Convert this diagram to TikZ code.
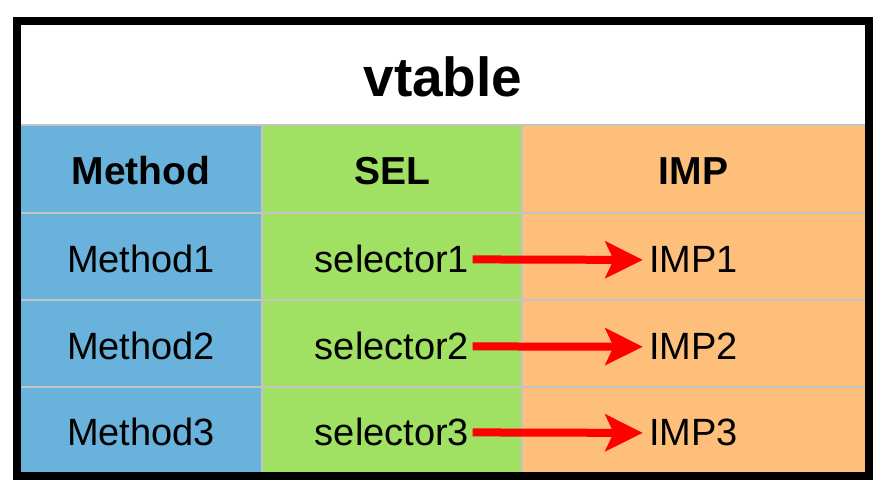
\documentclass[tikz,border=0pt]{standalone}
\usepackage{fontspec}
\setmainfont{Liberation Sans}
\usetikzlibrary{arrows.meta}
\definecolor{methodblue}{RGB}{104,178,220}
\definecolor{selgreen}{RGB}{160,224,98}
\definecolor{impgold}{RGB}{253,191,122}
\definecolor{gridgray}{RGB}{195,195,195}

\begin{document}
\begin{tikzpicture}[x=1pt,y=-1pt,
    cell/.style={anchor=base,font=\fontsize{38}{44}\selectfont},
    head/.style={anchor=base,font=\bfseries\fontsize{39}{46}\selectfont},
    ptr/.style={draw=red,line width=8pt,shorten >=3pt,-{Stealth[length=38pt,width=38pt,inset=9pt,line width=0pt]}}]
        \useasboundingbox (0,0) rectangle (884,494);
        \fill[white] (0,0) rectangle (884,494);

          % column backgrounds
          \fill[methodblue] (21,125) rectangle (262,472);
          \fill[selgreen] (262,125) rectangle (522,472);
          \fill[impgold] (522,125) rectangle (865,472);
          \foreach \y in {125,213,300,387}{
            \draw[gridgray,line width=2pt] (21,\y) -- (865,\y);
          }
          \foreach \x in {262,522}{
            \draw[gridgray,line width=2pt] (\x,125) -- (\x,472);
          }
          \draw[line width=8pt] (17,21) rectangle (868.5,476);

          \node[anchor=base,font=\bfseries\fontsize{55}{66}\selectfont] (vtable) at (443,97) {vtable};
          \node[head] (hmethod) at (141,185) {Method};
          \node[head] (hsel) at (392,185) {SEL};
          \node[head] (himp) at (693.5,185) {IMP};

          \foreach \i/\y in {1/273,2/360,3/446}{
            \node[cell] (method\i) at (141,\y) {Method\i};
            \node[cell] (sel\i) at (392,\y) {selector\i};
            \node[cell] (imp\i) at (693.5,\y) {IMP\i};
            \draw[ptr] (sel\i.east) -- (imp\i.west);
          }
        \end{tikzpicture}
\end{document}
